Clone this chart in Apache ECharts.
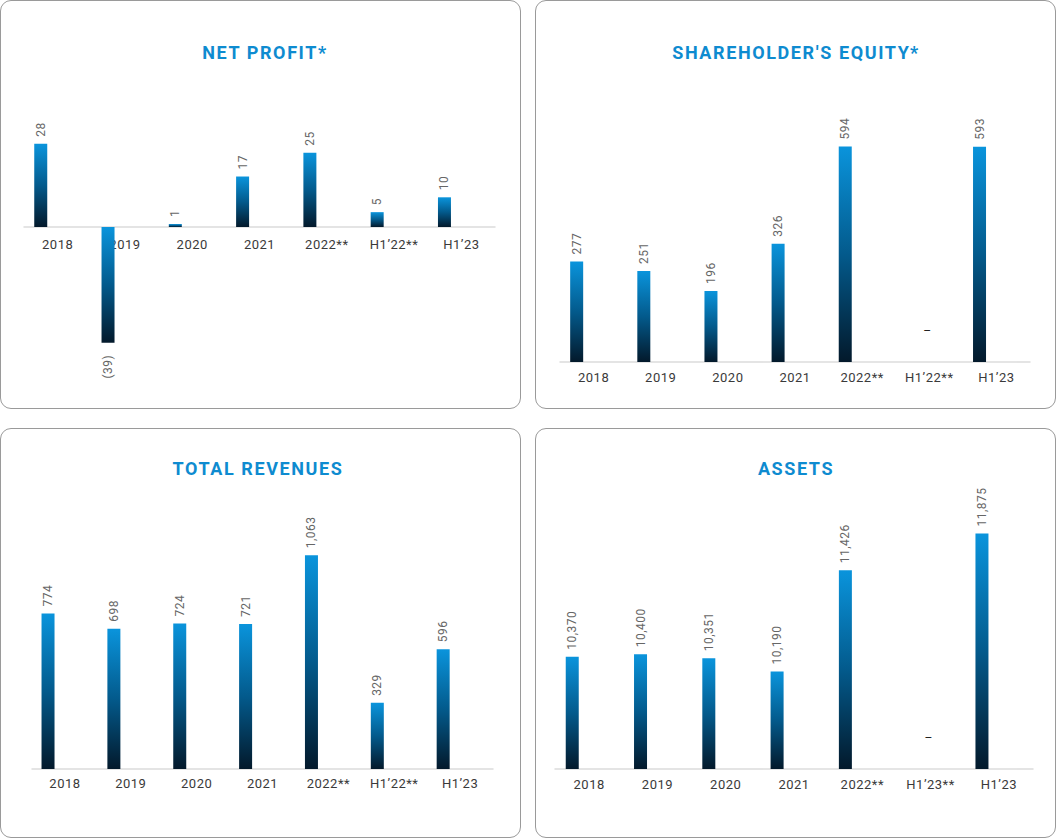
<!DOCTYPE html>
<html>
<head>
<meta charset="utf-8">
<script src="https://cdn.jsdelivr.net/npm/echarts@6/dist/echarts.min.js"></script>
<style>
  html, body { margin: 0; padding: 0; background: #ffffff; }
  body { width: 1058px; height: 839px; position: relative; overflow: hidden; }
  .panel { position: absolute; box-sizing: border-box; border: 1px solid #9a9a9a; border-radius: 11px; background: #fff; }
  #chart { position: absolute; left: 0; top: 0; width: 1058px; height: 839px; }
</style>
</head>
<body>
<div class="panel" style="left:0px;top:0px;width:521px;height:409px;"></div>
<div class="panel" style="left:535px;top:0px;width:521px;height:409px;"></div>
<div class="panel" style="left:0px;top:428px;width:521px;height:410px;"></div>
<div class="panel" style="left:535px;top:428px;width:521px;height:410px;"></div>
<div id="chart"></div>
<script>
// ---- data ----
const categoriesA = ['2018', '2019', '2020', '2021', '2022**', 'H1\u201922**', 'H1\u201923'];
const categoriesB = ['2018', '2019', '2020', '2021', '2022**', 'H1\u201923**', 'H1\u201923'];
const titles = ['NET PROFIT*', "SHAREHOLDER'S EQUITY*", 'TOTAL REVENUES', 'ASSETS'];
const netProfit = [28, -39, 1, 17, 25, 5, 10];
const equity = [277, 251, 196, 326, 594, null, 593];
const revenues = [774, 698, 724, 721, 1063, 329, 596];
const assets = [10370, 10400, 10351, 10190, 11426, null, 11875];

// ---- layout / style ----
const panels = [
  { title: titles[0], cats: categoriesA, values: netProfit, cx: 265, ty: 43,
    grid: { left: 24, top: 108.2, width: 471, height: 118.8 }, min: 0, max: 40, base: 0, margin: 11 },
  { title: titles[1], cats: categoriesA, values: equity, cx: 796, ty: 43,
    grid: { left: 560, top: 108, width: 470, height: 254 }, min: 0, max: 700, base: 0, margin: 9 },
  { title: titles[2], cats: categoriesA, values: revenues, cx: 258, ty: 459,
    grid: { left: 32, top: 507.7, width: 461, height: 261.3 }, min: 0, max: 1300, base: 0, margin: 8 },
  { title: titles[3], cats: categoriesB, values: assets, cx: 796, ty: 459,
    grid: { left: 555, top: 457.8, width: 478, height: 311.2 }, min: 9000, max: 12800, base: 9000, margin: 9 }
];

const barGradient = new echarts.graphic.LinearGradient(0, 0, 0, 1, [
  { offset: 0, color: '#0a94dc' },
  { offset: 0.5, color: '#035a8c' },
  { offset: 1, color: '#03192b' }
]);

function fmt(v) {
  if (v < 0) return '(' + Math.abs(v).toLocaleString('en-US') + ')';
  return v.toLocaleString('en-US');
}

const option = {
  animation: false,
  title: [], grid: [], xAxis: [], yAxis: [], series: []
};

panels.forEach((p, i) => {
  option.title.push({
    text: p.title, left: p.cx, top: p.ty, textAlign: 'center', padding: 0,
    textStyle: { fontFamily: 'Roboto', fontWeight: 'bold', fontSize: 18, color: '#0e8bd0' }
  });
  option.grid.push(Object.assign({ containLabel: false }, p.grid));
  option.xAxis.push({
    type: 'category', gridIndex: i, data: p.cats,
    axisLine: { show: true, onZero: false, lineStyle: { color: '#dcdcdc', width: 1.5 } },
    axisTick: { show: false },
    axisLabel: { color: '#3a3a3a', fontFamily: 'Roboto', fontSize: 13, margin: p.margin, interval: 0 },
    splitLine: { show: false }
  });
  option.yAxis.push({
    type: 'value', gridIndex: i, min: p.min, max: p.max, startValue: p.base, show: false,
    splitLine: { show: false }
  });
  const data = p.values.map(v => {
    if (v === null) {
      return {
        value: p.base,
        label: { show: true, formatter: '\u2013', rotate: 0, position: 'top', distance: 31,
                 align: 'center', verticalAlign: 'middle', offset: [15, 0], color: '#222', fontSize: 12 }
      };
    }
    if (v < 0) {
      return { value: v, label: { position: 'bottom', align: 'right', distance: 12 } };
    }
    return v;
  });
  option.series.push({
    type: 'bar', xAxisIndex: i, yAxisIndex: i, data: data, clip: false, z: 5,
    barWidth: 13, barGap: '160%',
    itemStyle: { color: barGradient },
    label: {
      show: true, position: 'top', rotate: 90, align: 'left', verticalAlign: 'middle', distance: 7,
      color: '#666', fontFamily: 'Roboto', fontSize: 12,
      formatter: params => fmt(params.value)
    }
  });
  option.series.push({
    type: 'bar', xAxisIndex: i, yAxisIndex: i, data: p.values.map(() => null),
    barWidth: 13, barGap: '160%', silent: true
  });
});

const chart = echarts.init(document.getElementById('chart'), null, { renderer: 'svg' });
chart.setOption(option);

function spaceText() {
  document.querySelectorAll('#chart text').forEach(t => {
    const cs = getComputedStyle(t);
    const w = parseInt(cs.fontWeight, 10);
    if (w >= 600) t.style.letterSpacing = '1.6px';
    else t.style.letterSpacing = '0.5px';
  });
}
chart.on('finished', spaceText);
setTimeout(spaceText, 50);
</script>
</body>
</html>
